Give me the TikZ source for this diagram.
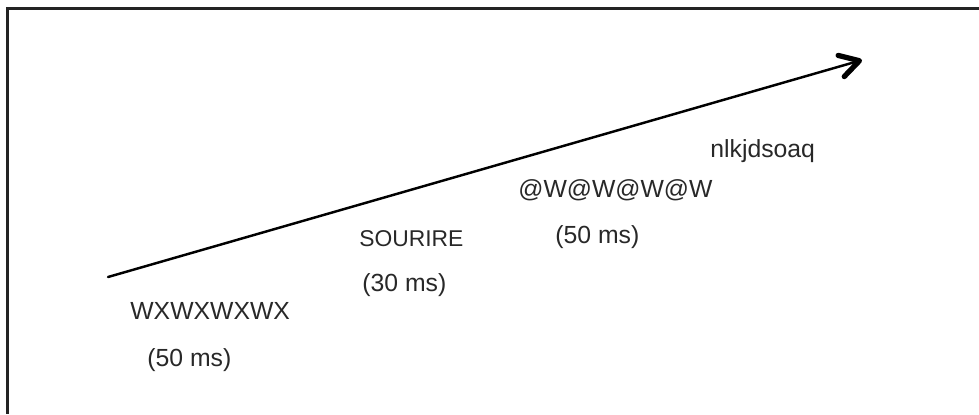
\documentclass[tikz,border=0pt]{standalone}
\usepackage{fontspec}
\setmainfont{Liberation Sans}
\usepackage{tikz}
\usetikzlibrary{arrows.meta, positioning}
\definecolor{mydark}{RGB}{40,40,40}
\definecolor{myframe}{RGB}{35,35,35}
\tikzset{
  stimlabel/.style={anchor=base west, inner sep=0pt, text=mydark,
    font=\fontsize{14.1}{17}\selectfont},
  smalllabel/.style={anchor=base west, inner sep=0pt, text=mydark,
    font=\fontsize{13}{15}\selectfont},
  timearrow/.style={-{Straight Barb[length=0.38cm, width=0.44cm, line width=3pt 0, round]},
    line width=1.4pt, color=black, line cap=round},
  frameline/.style={line width=1.2pt, color=myframe}
}
\begin{document}
\begin{tikzpicture}[x=0.02cm, y=-0.02cm]
  \useasboundingbox (0,0) rectangle (979,414);
  % Frame (top and left edges only)
  \draw[frameline] (979,8.5) -- (7.5,8.5) -- (7.5,414);

  % Time arrow
  \coordinate (tstart) at (108,277);
  \coordinate (tend) at (862,60);
  \draw[timearrow] (tstart) -- (tend);

  % Stimuli along the arrow
  \node[stimlabel] (mask1) at (130,319) {WXWXWXWX};
  \node[stimlabel] (dur1) at (147,366) {(50 ms)};
  \node[smalllabel] (prime) at (359,246) {SOURIRE};
  \node[stimlabel] (dur2) at (362,291) {(30 ms)};
  \node[stimlabel] (mask2) at (518,197) {@W@W@W@W};
  \node[stimlabel] (dur3) at (555,243) {(50 ms)};
  \node[stimlabel] (target) at (710,157) {nlkjdsoaq};
\end{tikzpicture}
\end{document}
